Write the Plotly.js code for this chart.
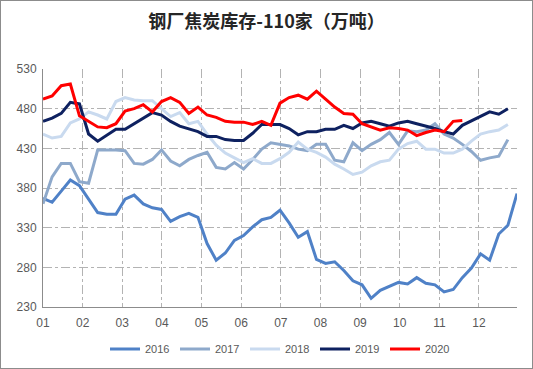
<!DOCTYPE html>
<html>
<head>
<meta charset="utf-8">
<script src="https://cdn.plot.ly/plotly-3.0.1.min.js"></script>
<style>
html,body{margin:0;padding:0;background:#fff;}
#frame{width:533px;height:369px;box-sizing:border-box;border:1px solid #8c8c8c;}
#chart{width:531px;height:367px;}
</style>
</head>
<body>
<div id="frame"><div id="chart"></div></div>
<script>
const monthLabels = ["01","02","03","04","05","06","07","08","09","10","11","12"];
const seriesNames = ["2016","2017","2018","2019","2020"];

const v2016 = [367,362,376,390,383,366,349,347,347,366,371,360,355,353,338,344,348,343,310,289,298,314,320,331,340,343,352,336,318,325,290,285,287,276,263,258,241,251,256,261,259,267,260,258,249,252,267,279,297,289,322,333,373];
const v2017 = [360,394,411,411,388,386,428,428,428,427,411,410,416,428,414,408,416,421,425,406,404,412,404,416,429,437,435,433,429,427,435,435,415,413,437,427,435,441,450,435,452,451,453,461,448,443,435,426,415,418,420,441];
const v2018 = [448,443,445,462,467,476,472,467,489,494,491,490,490,480,470,475,461,464,448,434,424,418,412,417,411,411,417,425,438,429,425,419,410,404,397,400,408,413,415,429,436,439,429,429,424,424,429,439,448,451,453,460];
const v2019 = [464,468,474,488,486,448,439,446,454,454,461,468,475,472,464,458,454,451,445,445,441,440,440,449,460,460,460,455,447,451,451,454,454,459,455,462,464,461,458,462,464,461,458,455,451,448,459,465,470,476,473,480];
const v2020 = [492,496,509,511,471,464,457,456,461,477,480,485,476,489,494,488,474,482,472,469,464,463,463,460,464,459,487,494,497,492,502,492,482,474,473,461,457,453,456,455,453,446,450,453,451,464,465];

const allValues = [v2016, v2017, v2018, v2019, v2020];
const colors = ["#4f81c7", "#8ea9cb", "#c9daef", "#0e2160", "#ff0000"];

const weeksPerMonth = 365.25/7/12;
const traces = allValues.map((vals, i) => ({
  type: "scatter",
  mode: "lines",
  name: seriesNames[i],
  x: vals.map((_, k) => k),
  y: vals,
  line: {color: colors[i], width: 3},
  hoverinfo: "skip"
}));

const layout = {
  width: 531, height: 367,
  margin: {l: 42, r: 15, t: 68, b: 61, autoexpand: false},
  paper_bgcolor: "#ffffff",
  plot_bgcolor: "#ffffff",
  font: {family: "Liberation Sans, Arial, sans-serif", size: 12, color: "#595959"},
  title: {
    text: "钢厂焦炭库存-110家（万吨）",
    font: {family: "Noto Sans CJK SC, sans-serif", size: 18, color: "#262626", weight: "bold"},
    x: 0.5, xanchor: "center", y: 0.943, yanchor: "middle"
  },
  xaxis: {
    range: [0, 52],
    tickmode: "array",
    tickvals: monthLabels.map((_, i) => i * weeksPerMonth),
    ticktext: monthLabels,
    showgrid: true,
    gridcolor: "#b3b3b3",
    griddash: "dashdot",
    gridwidth: 1,
    zeroline: false,
    showline: true,
    linecolor: "#8c8c8c",
    linewidth: 1,
    ticks: "",
    ticklen: 0,
    ticklabelstandoff: 5,
    tickfont: {size: 12, color: "#595959"},
    fixedrange: true
  },
  yaxis: {
    range: [230, 530],
    tickmode: "array",
    tickvals: [230, 280, 330, 380, 430, 480, 530],
    showgrid: true,
    gridcolor: "#b3b3b3",
    griddash: "dashdot",
    gridwidth: 1,
    zeroline: false,
    showline: true,
    linecolor: "#8c8c8c",
    linewidth: 1,
    ticks: "",
    ticklen: 0,
    ticklabelstandoff: 3,
    tickfont: {size: 12, color: "#595959"},
    fixedrange: true
  },
  showlegend: true,
  legend: {
    orientation: "h",
    x: 0.5, xanchor: "center",
    yref: "container",
    y: 0.052, yanchor: "middle",
    font: {size: 11, color: "#595959"},
    entrywidth: 25,
    entrywidthmode: "pixels",
    itemwidth: 30,
    bgcolor: "rgba(0,0,0,0)"
  }
};

Plotly.newPlot("chart", traces, layout, {staticPlot: true, displayModeBar: false});
</script>
</body>
</html>
